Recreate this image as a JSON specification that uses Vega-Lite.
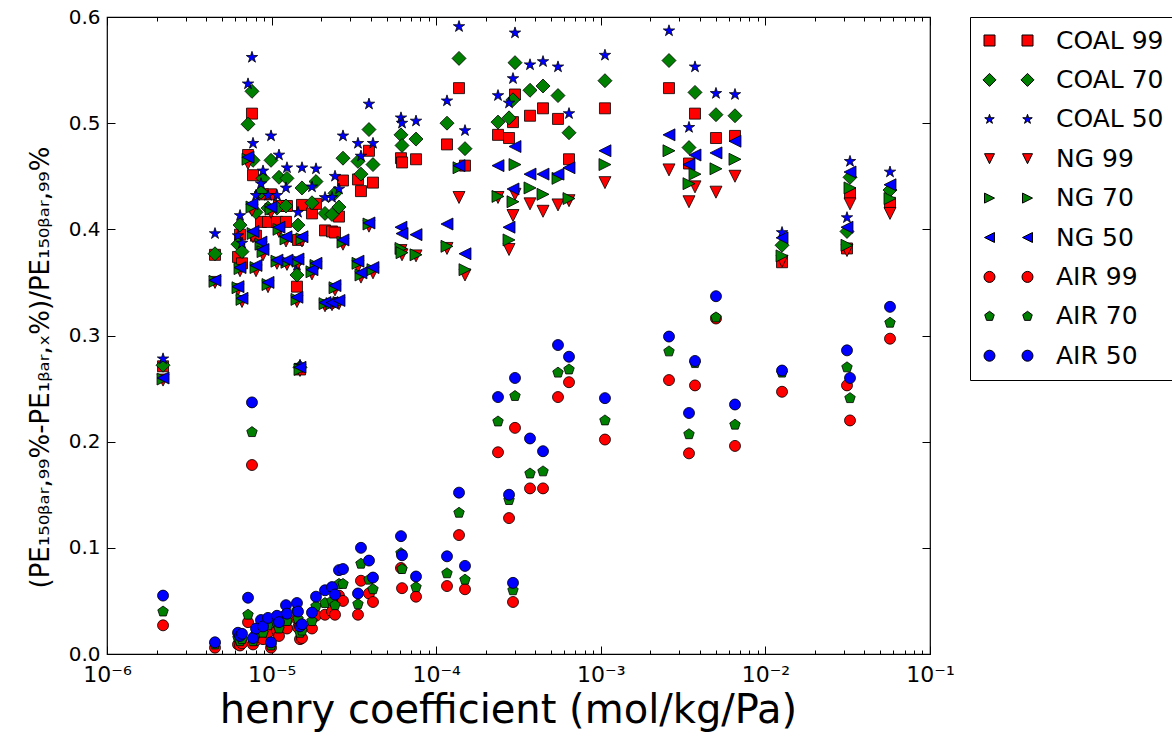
{
"$schema": "https://vega.github.io/schema/vega-lite/v6.json",
"width": 823,
"height": 637,
"autosize": {"type": "none"},
"padding": {"left": 107, "top": 17, "right": 242, "bottom": 84},
"background": "white",
"config": {
  "view": {"stroke": "black", "strokeWidth": 1.2},
  "font": "DejaVu Sans",
  "axis": {"domain": false, "grid": false, "tickColor": "black", "tickWidth": 1, "labelColor": "black", "titleColor": "black", "labelFont": "DejaVu Sans", "titleFont": "DejaVu Sans", "titleFontWeight": "normal"}
},
"data": {"values": [
{"s":"COAL 99","h":2.19e-6,"v":0.271},{"s":"COAL 99","h":4.53e-6,"v":0.376},{"s":"COAL 99","h":6.25e-6,"v":0.374},{"s":"COAL 99","h":6.43e-6,"v":0.395},{"s":"COAL 99","h":6.61e-6,"v":0.368},{"s":"COAL 99","h":7.19e-6,"v":0.47},{"s":"COAL 99","h":7.6e-6,"v":0.509},{"s":"COAL 99","h":7.71e-6,"v":0.451},{"s":"COAL 99","h":8.04e-6,"v":0.394},{"s":"COAL 99","h":8.62e-6,"v":0.407},{"s":"COAL 99","h":8.87e-6,"v":0.433},{"s":"COAL 99","h":9.51e-6,"v":0.407},{"s":"COAL 99","h":9.92e-6,"v":0.433},{"s":"COAL 99","h":1.078e-5,"v":0.407},{"s":"COAL 99","h":1.109e-5,"v":0.422},{"s":"COAL 99","h":1.223e-5,"v":0.407},{"s":"COAL 99","h":1.24e-5,"v":0.422},{"s":"COAL 99","h":1.426e-5,"v":0.346},{"s":"COAL 99","h":1.447e-5,"v":0.39},{"s":"COAL 99","h":1.488e-5,"v":0.268},{"s":"COAL 99","h":1.53e-5,"v":0.423},{"s":"COAL 99","h":1.759e-5,"v":0.415},{"s":"COAL 99","h":1.861e-5,"v":0.424},{"s":"COAL 99","h":2.111e-5,"v":0.399},{"s":"COAL 99","h":2.328e-5,"v":0.398},{"s":"COAL 99","h":2.428e-5,"v":0.397},{"s":"COAL 99","h":2.567e-5,"v":0.412},{"s":"COAL 99","h":2.715e-5,"v":0.446},{"s":"COAL 99","h":3.348e-5,"v":0.447},{"s":"COAL 99","h":3.491e-5,"v":0.436},{"s":"COAL 99","h":3.905e-5,"v":0.474},{"s":"COAL 99","h":4.13e-5,"v":0.444},{"s":"COAL 99","h":6.11e-5,"v":0.467},{"s":"COAL 99","h":6.2e-5,"v":0.463},{"s":"COAL 99","h":7.54e-5,"v":0.466},{"s":"COAL 99","h":1.163e-4,"v":0.48},{"s":"COAL 99","h":1.376e-4,"v":0.533},{"s":"COAL 99","h":1.496e-4,"v":0.46},{"s":"COAL 99","h":2.374e-4,"v":0.489},{"s":"COAL 99","h":2.77e-4,"v":0.486},{"s":"COAL 99","h":2.928e-4,"v":0.501},{"s":"COAL 99","h":3.011e-4,"v":0.527},{"s":"COAL 99","h":3.715e-4,"v":0.507},{"s":"COAL 99","h":4.456e-4,"v":0.514},{"s":"COAL 99","h":5.495e-4,"v":0.504},{"s":"COAL 99","h":6.41e-4,"v":0.466},{"s":"COAL 99","h":1.06e-3,"v":0.514},{"s":"COAL 99","h":2.596e-3,"v":0.533},{"s":"COAL 99","h":3.434e-3,"v":0.462},{"s":"COAL 99","h":3.735e-3,"v":0.509},{"s":"COAL 99","h":5.009e-3,"v":0.486},{"s":"COAL 99","h":6.535e-3,"v":0.488},{"s":"COAL 99","h":1.262e-2,"v":0.369},{"s":"COAL 99","h":3.131e-2,"v":0.382},{"s":"COAL 99","h":3.266e-2,"v":0.434},{"s":"COAL 99","h":5.715e-2,"v":0.425},
{"s":"COAL 70","h":2.19e-6,"v":0.272},{"s":"COAL 70","h":4.53e-6,"v":0.377},{"s":"COAL 70","h":6.25e-6,"v":0.386},{"s":"COAL 70","h":6.43e-6,"v":0.404},{"s":"COAL 70","h":6.61e-6,"v":0.379},{"s":"COAL 70","h":7.19e-6,"v":0.499},{"s":"COAL 70","h":7.6e-6,"v":0.53},{"s":"COAL 70","h":7.71e-6,"v":0.465},{"s":"COAL 70","h":8.04e-6,"v":0.416},{"s":"COAL 70","h":8.62e-6,"v":0.435},{"s":"COAL 70","h":8.87e-6,"v":0.448},{"s":"COAL 70","h":9.51e-6,"v":0.42},{"s":"COAL 70","h":9.92e-6,"v":0.465},{"s":"COAL 70","h":1.078e-5,"v":0.42},{"s":"COAL 70","h":1.109e-5,"v":0.449},{"s":"COAL 70","h":1.223e-5,"v":0.422},{"s":"COAL 70","h":1.24e-5,"v":0.448},{"s":"COAL 70","h":1.426e-5,"v":0.357},{"s":"COAL 70","h":1.447e-5,"v":0.404},{"s":"COAL 70","h":1.488e-5,"v":0.27},{"s":"COAL 70","h":1.53e-5,"v":0.439},{"s":"COAL 70","h":1.759e-5,"v":0.425},{"s":"COAL 70","h":1.861e-5,"v":0.445},{"s":"COAL 70","h":2.111e-5,"v":0.415},{"s":"COAL 70","h":2.328e-5,"v":0.414},{"s":"COAL 70","h":2.428e-5,"v":0.434},{"s":"COAL 70","h":2.567e-5,"v":0.421},{"s":"COAL 70","h":2.715e-5,"v":0.467},{"s":"COAL 70","h":3.348e-5,"v":0.464},{"s":"COAL 70","h":3.491e-5,"v":0.452},{"s":"COAL 70","h":3.905e-5,"v":0.494},{"s":"COAL 70","h":4.13e-5,"v":0.461},{"s":"COAL 70","h":6.11e-5,"v":0.489},{"s":"COAL 70","h":6.2e-5,"v":0.479},{"s":"COAL 70","h":7.54e-5,"v":0.485},{"s":"COAL 70","h":1.163e-4,"v":0.5},{"s":"COAL 70","h":1.376e-4,"v":0.561},{"s":"COAL 70","h":1.496e-4,"v":0.476},{"s":"COAL 70","h":2.374e-4,"v":0.501},{"s":"COAL 70","h":2.77e-4,"v":0.505},{"s":"COAL 70","h":2.928e-4,"v":0.522},{"s":"COAL 70","h":3.011e-4,"v":0.557},{"s":"COAL 70","h":3.715e-4,"v":0.531},{"s":"COAL 70","h":4.456e-4,"v":0.535},{"s":"COAL 70","h":5.495e-4,"v":0.526},{"s":"COAL 70","h":6.41e-4,"v":0.491},{"s":"COAL 70","h":1.06e-3,"v":0.54},{"s":"COAL 70","h":2.596e-3,"v":0.559},{"s":"COAL 70","h":3.434e-3,"v":0.477},{"s":"COAL 70","h":3.735e-3,"v":0.529},{"s":"COAL 70","h":5.009e-3,"v":0.508},{"s":"COAL 70","h":6.535e-3,"v":0.507},{"s":"COAL 70","h":1.262e-2,"v":0.385},{"s":"COAL 70","h":3.131e-2,"v":0.398},{"s":"COAL 70","h":3.266e-2,"v":0.449},{"s":"COAL 70","h":5.715e-2,"v":0.437},
{"s":"COAL 50","h":2.19e-6,"v":0.278},{"s":"COAL 50","h":4.53e-6,"v":0.396},{"s":"COAL 50","h":6.25e-6,"v":0.394},{"s":"COAL 50","h":6.43e-6,"v":0.413},{"s":"COAL 50","h":6.61e-6,"v":0.387},{"s":"COAL 50","h":7.19e-6,"v":0.537},{"s":"COAL 50","h":7.6e-6,"v":0.562},{"s":"COAL 50","h":7.71e-6,"v":0.481},{"s":"COAL 50","h":8.04e-6,"v":0.432},{"s":"COAL 50","h":8.62e-6,"v":0.443},{"s":"COAL 50","h":8.87e-6,"v":0.455},{"s":"COAL 50","h":9.51e-6,"v":0.432},{"s":"COAL 50","h":9.92e-6,"v":0.488},{"s":"COAL 50","h":1.078e-5,"v":0.432},{"s":"COAL 50","h":1.109e-5,"v":0.47},{"s":"COAL 50","h":1.223e-5,"v":0.439},{"s":"COAL 50","h":1.24e-5,"v":0.458},{"s":"COAL 50","h":1.426e-5,"v":0.366},{"s":"COAL 50","h":1.447e-5,"v":0.416},{"s":"COAL 50","h":1.488e-5,"v":0.272},{"s":"COAL 50","h":1.53e-5,"v":0.458},{"s":"COAL 50","h":1.759e-5,"v":0.44},{"s":"COAL 50","h":1.861e-5,"v":0.457},{"s":"COAL 50","h":2.111e-5,"v":0.43},{"s":"COAL 50","h":2.328e-5,"v":0.43},{"s":"COAL 50","h":2.428e-5,"v":0.45},{"s":"COAL 50","h":2.567e-5,"v":0.438},{"s":"COAL 50","h":2.715e-5,"v":0.488},{"s":"COAL 50","h":3.348e-5,"v":0.481},{"s":"COAL 50","h":3.491e-5,"v":0.469},{"s":"COAL 50","h":3.905e-5,"v":0.518},{"s":"COAL 50","h":4.13e-5,"v":0.481},{"s":"COAL 50","h":6.11e-5,"v":0.505},{"s":"COAL 50","h":6.2e-5,"v":0.5},{"s":"COAL 50","h":7.54e-5,"v":0.502},{"s":"COAL 50","h":1.163e-4,"v":0.521},{"s":"COAL 50","h":1.376e-4,"v":0.591},{"s":"COAL 50","h":1.496e-4,"v":0.493},{"s":"COAL 50","h":2.374e-4,"v":0.526},{"s":"COAL 50","h":2.77e-4,"v":0.519},{"s":"COAL 50","h":2.928e-4,"v":0.542},{"s":"COAL 50","h":3.011e-4,"v":0.585},{"s":"COAL 50","h":3.715e-4,"v":0.555},{"s":"COAL 50","h":4.456e-4,"v":0.558},{"s":"COAL 50","h":5.495e-4,"v":0.553},{"s":"COAL 50","h":6.41e-4,"v":0.509},{"s":"COAL 50","h":1.06e-3,"v":0.564},{"s":"COAL 50","h":2.596e-3,"v":0.587},{"s":"COAL 50","h":3.434e-3,"v":0.496},{"s":"COAL 50","h":3.735e-3,"v":0.553},{"s":"COAL 50","h":5.009e-3,"v":0.528},{"s":"COAL 50","h":6.535e-3,"v":0.527},{"s":"COAL 50","h":1.262e-2,"v":0.397},{"s":"COAL 50","h":3.131e-2,"v":0.411},{"s":"COAL 50","h":3.266e-2,"v":0.464},{"s":"COAL 50","h":5.715e-2,"v":0.454},
{"s":"NG 99","h":2.19e-6,"v":0.258},{"s":"NG 99","h":4.53e-6,"v":0.35},{"s":"NG 99","h":6.25e-6,"v":0.343},{"s":"NG 99","h":6.43e-6,"v":0.361},{"s":"NG 99","h":6.61e-6,"v":0.332},{"s":"NG 99","h":7.19e-6,"v":0.462},{"s":"NG 99","h":7.6e-6,"v":0.418},{"s":"NG 99","h":7.71e-6,"v":0.393},{"s":"NG 99","h":8.04e-6,"v":0.361},{"s":"NG 99","h":8.62e-6,"v":0.383},{"s":"NG 99","h":8.87e-6,"v":0.376},{"s":"NG 99","h":9.51e-6,"v":0.346},{"s":"NG 99","h":9.92e-6,"v":0.416},{"s":"NG 99","h":1.078e-5,"v":0.368},{"s":"NG 99","h":1.109e-5,"v":0.398},{"s":"NG 99","h":1.223e-5,"v":0.389},{"s":"NG 99","h":1.24e-5,"v":0.367},{"s":"NG 99","h":1.426e-5,"v":0.332},{"s":"NG 99","h":1.447e-5,"v":0.368},{"s":"NG 99","h":1.488e-5,"v":0.267},{"s":"NG 99","h":1.53e-5,"v":0.389},{"s":"NG 99","h":1.759e-5,"v":0.358},{"s":"NG 99","h":1.861e-5,"v":0.364},{"s":"NG 99","h":2.111e-5,"v":0.328},{"s":"NG 99","h":2.328e-5,"v":0.329},{"s":"NG 99","h":2.428e-5,"v":0.343},{"s":"NG 99","h":2.567e-5,"v":0.33},{"s":"NG 99","h":2.715e-5,"v":0.386},{"s":"NG 99","h":3.348e-5,"v":0.365},{"s":"NG 99","h":3.491e-5,"v":0.355},{"s":"NG 99","h":3.905e-5,"v":0.403},{"s":"NG 99","h":4.13e-5,"v":0.359},{"s":"NG 99","h":6.11e-5,"v":0.38},{"s":"NG 99","h":6.2e-5,"v":0.376},{"s":"NG 99","h":7.54e-5,"v":0.375},{"s":"NG 99","h":1.163e-4,"v":0.382},{"s":"NG 99","h":1.376e-4,"v":0.43},{"s":"NG 99","h":1.496e-4,"v":0.357},{"s":"NG 99","h":2.374e-4,"v":0.43},{"s":"NG 99","h":2.77e-4,"v":0.381},{"s":"NG 99","h":2.928e-4,"v":0.413},{"s":"NG 99","h":3.011e-4,"v":0.433},{"s":"NG 99","h":3.715e-4,"v":0.424},{"s":"NG 99","h":4.456e-4,"v":0.417},{"s":"NG 99","h":5.495e-4,"v":0.423},{"s":"NG 99","h":6.41e-4,"v":0.427},{"s":"NG 99","h":1.06e-3,"v":0.444},{"s":"NG 99","h":2.596e-3,"v":0.456},{"s":"NG 99","h":3.434e-3,"v":0.426},{"s":"NG 99","h":3.735e-3,"v":0.44},{"s":"NG 99","h":5.009e-3,"v":0.435},{"s":"NG 99","h":6.535e-3,"v":0.45},{"s":"NG 99","h":1.262e-2,"v":0.37},{"s":"NG 99","h":3.131e-2,"v":0.38},{"s":"NG 99","h":3.266e-2,"v":0.424},{"s":"NG 99","h":5.715e-2,"v":0.415},
{"s":"NG 70","h":2.19e-6,"v":0.259},{"s":"NG 70","h":4.53e-6,"v":0.351},{"s":"NG 70","h":6.25e-6,"v":0.345},{"s":"NG 70","h":6.43e-6,"v":0.363},{"s":"NG 70","h":6.61e-6,"v":0.334},{"s":"NG 70","h":7.19e-6,"v":0.466},{"s":"NG 70","h":7.6e-6,"v":0.421},{"s":"NG 70","h":7.71e-6,"v":0.396},{"s":"NG 70","h":8.04e-6,"v":0.364},{"s":"NG 70","h":8.62e-6,"v":0.386},{"s":"NG 70","h":8.87e-6,"v":0.379},{"s":"NG 70","h":9.51e-6,"v":0.348},{"s":"NG 70","h":9.92e-6,"v":0.419},{"s":"NG 70","h":1.078e-5,"v":0.37},{"s":"NG 70","h":1.109e-5,"v":0.4},{"s":"NG 70","h":1.223e-5,"v":0.391},{"s":"NG 70","h":1.24e-5,"v":0.369},{"s":"NG 70","h":1.426e-5,"v":0.334},{"s":"NG 70","h":1.447e-5,"v":0.37},{"s":"NG 70","h":1.488e-5,"v":0.268},{"s":"NG 70","h":1.53e-5,"v":0.391},{"s":"NG 70","h":1.759e-5,"v":0.36},{"s":"NG 70","h":1.861e-5,"v":0.366},{"s":"NG 70","h":2.111e-5,"v":0.33},{"s":"NG 70","h":2.328e-5,"v":0.33},{"s":"NG 70","h":2.428e-5,"v":0.345},{"s":"NG 70","h":2.567e-5,"v":0.331},{"s":"NG 70","h":2.715e-5,"v":0.388},{"s":"NG 70","h":3.348e-5,"v":0.368},{"s":"NG 70","h":3.491e-5,"v":0.357},{"s":"NG 70","h":3.905e-5,"v":0.405},{"s":"NG 70","h":4.13e-5,"v":0.362},{"s":"NG 70","h":6.11e-5,"v":0.382},{"s":"NG 70","h":6.2e-5,"v":0.378},{"s":"NG 70","h":7.54e-5,"v":0.376},{"s":"NG 70","h":1.163e-4,"v":0.384},{"s":"NG 70","h":1.376e-4,"v":0.458},{"s":"NG 70","h":1.496e-4,"v":0.362},{"s":"NG 70","h":2.374e-4,"v":0.431},{"s":"NG 70","h":2.77e-4,"v":0.39},{"s":"NG 70","h":2.928e-4,"v":0.426},{"s":"NG 70","h":3.011e-4,"v":0.461},{"s":"NG 70","h":3.715e-4,"v":0.439},{"s":"NG 70","h":4.456e-4,"v":0.433},{"s":"NG 70","h":5.495e-4,"v":0.448},{"s":"NG 70","h":6.41e-4,"v":0.429},{"s":"NG 70","h":1.06e-3,"v":0.461},{"s":"NG 70","h":2.596e-3,"v":0.474},{"s":"NG 70","h":3.434e-3,"v":0.443},{"s":"NG 70","h":3.735e-3,"v":0.452},{"s":"NG 70","h":5.009e-3,"v":0.457},{"s":"NG 70","h":6.535e-3,"v":0.466},{"s":"NG 70","h":1.262e-2,"v":0.375},{"s":"NG 70","h":3.131e-2,"v":0.385},{"s":"NG 70","h":3.266e-2,"v":0.439},{"s":"NG 70","h":5.715e-2,"v":0.429},
{"s":"NG 50","h":2.19e-6,"v":0.26},{"s":"NG 50","h":4.53e-6,"v":0.352},{"s":"NG 50","h":6.25e-6,"v":0.346},{"s":"NG 50","h":6.43e-6,"v":0.364},{"s":"NG 50","h":6.61e-6,"v":0.335},{"s":"NG 50","h":7.19e-6,"v":0.468},{"s":"NG 50","h":7.6e-6,"v":0.424},{"s":"NG 50","h":7.71e-6,"v":0.398},{"s":"NG 50","h":8.04e-6,"v":0.366},{"s":"NG 50","h":8.62e-6,"v":0.388},{"s":"NG 50","h":8.87e-6,"v":0.381},{"s":"NG 50","h":9.51e-6,"v":0.35},{"s":"NG 50","h":9.92e-6,"v":0.421},{"s":"NG 50","h":1.078e-5,"v":0.371},{"s":"NG 50","h":1.109e-5,"v":0.402},{"s":"NG 50","h":1.223e-5,"v":0.393},{"s":"NG 50","h":1.24e-5,"v":0.371},{"s":"NG 50","h":1.426e-5,"v":0.336},{"s":"NG 50","h":1.447e-5,"v":0.372},{"s":"NG 50","h":1.488e-5,"v":0.27},{"s":"NG 50","h":1.53e-5,"v":0.393},{"s":"NG 50","h":1.759e-5,"v":0.362},{"s":"NG 50","h":1.861e-5,"v":0.368},{"s":"NG 50","h":2.111e-5,"v":0.331},{"s":"NG 50","h":2.328e-5,"v":0.331},{"s":"NG 50","h":2.428e-5,"v":0.347},{"s":"NG 50","h":2.567e-5,"v":0.333},{"s":"NG 50","h":2.715e-5,"v":0.39},{"s":"NG 50","h":3.348e-5,"v":0.37},{"s":"NG 50","h":3.491e-5,"v":0.359},{"s":"NG 50","h":3.905e-5,"v":0.406},{"s":"NG 50","h":4.13e-5,"v":0.364},{"s":"NG 50","h":6.11e-5,"v":0.402},{"s":"NG 50","h":6.2e-5,"v":0.396},{"s":"NG 50","h":7.54e-5,"v":0.395},{"s":"NG 50","h":1.163e-4,"v":0.405},{"s":"NG 50","h":1.376e-4,"v":0.46},{"s":"NG 50","h":1.496e-4,"v":0.377},{"s":"NG 50","h":2.374e-4,"v":0.46},{"s":"NG 50","h":2.77e-4,"v":0.402},{"s":"NG 50","h":2.928e-4,"v":0.438},{"s":"NG 50","h":3.011e-4,"v":0.478},{"s":"NG 50","h":3.715e-4,"v":0.452},{"s":"NG 50","h":4.456e-4,"v":0.452},{"s":"NG 50","h":5.495e-4,"v":0.452},{"s":"NG 50","h":6.41e-4,"v":0.458},{"s":"NG 50","h":1.06e-3,"v":0.474},{"s":"NG 50","h":2.596e-3,"v":0.489},{"s":"NG 50","h":3.434e-3,"v":0.461},{"s":"NG 50","h":3.735e-3,"v":0.47},{"s":"NG 50","h":5.009e-3,"v":0.472},{"s":"NG 50","h":6.535e-3,"v":0.483},{"s":"NG 50","h":1.262e-2,"v":0.392},{"s":"NG 50","h":3.131e-2,"v":0.402},{"s":"NG 50","h":3.266e-2,"v":0.454},{"s":"NG 50","h":5.715e-2,"v":0.442},
{"s":"AIR 99","h":2.19e-6,"v":0.027},{"s":"AIR 99","h":4.53e-6,"v":0.006},{"s":"AIR 99","h":6.25e-6,"v":0.009},{"s":"AIR 99","h":6.43e-6,"v":0.008},{"s":"AIR 99","h":6.61e-6,"v":0.01},{"s":"AIR 99","h":7.19e-6,"v":0.03},{"s":"AIR 99","h":7.6e-6,"v":0.178},{"s":"AIR 99","h":7.71e-6,"v":0.009},{"s":"AIR 99","h":8.04e-6,"v":0.013},{"s":"AIR 99","h":8.62e-6,"v":0.018},{"s":"AIR 99","h":8.87e-6,"v":0.014},{"s":"AIR 99","h":9.51e-6,"v":0.02},{"s":"AIR 99","h":9.92e-6,"v":0.006},{"s":"AIR 99","h":1.078e-5,"v":0.022},{"s":"AIR 99","h":1.109e-5,"v":0.017},{"s":"AIR 99","h":1.223e-5,"v":0.03},{"s":"AIR 99","h":1.24e-5,"v":0.024},{"s":"AIR 99","h":1.426e-5,"v":0.033},{"s":"AIR 99","h":1.447e-5,"v":0.025},{"s":"AIR 99","h":1.488e-5,"v":0.014},{"s":"AIR 99","h":1.53e-5,"v":0.015},{"s":"AIR 99","h":1.759e-5,"v":0.024},{"s":"AIR 99","h":1.861e-5,"v":0.036},{"s":"AIR 99","h":2.111e-5,"v":0.037},{"s":"AIR 99","h":2.328e-5,"v":0.04},{"s":"AIR 99","h":2.428e-5,"v":0.037},{"s":"AIR 99","h":2.567e-5,"v":0.055},{"s":"AIR 99","h":2.715e-5,"v":0.05},{"s":"AIR 99","h":3.348e-5,"v":0.037},{"s":"AIR 99","h":3.491e-5,"v":0.069},{"s":"AIR 99","h":3.905e-5,"v":0.057},{"s":"AIR 99","h":4.13e-5,"v":0.049},{"s":"AIR 99","h":6.11e-5,"v":0.081},{"s":"AIR 99","h":6.2e-5,"v":0.062},{"s":"AIR 99","h":7.54e-5,"v":0.054},{"s":"AIR 99","h":1.163e-4,"v":0.064},{"s":"AIR 99","h":1.376e-4,"v":0.112},{"s":"AIR 99","h":1.496e-4,"v":0.061},{"s":"AIR 99","h":2.374e-4,"v":0.19},{"s":"AIR 99","h":2.77e-4,"v":0.128},{"s":"AIR 99","h":2.928e-4,"v":0.049},{"s":"AIR 99","h":3.011e-4,"v":0.213},{"s":"AIR 99","h":3.715e-4,"v":0.156},{"s":"AIR 99","h":4.456e-4,"v":0.156},{"s":"AIR 99","h":5.495e-4,"v":0.242},{"s":"AIR 99","h":6.41e-4,"v":0.256},{"s":"AIR 99","h":1.06e-3,"v":0.202},{"s":"AIR 99","h":2.596e-3,"v":0.258},{"s":"AIR 99","h":3.434e-3,"v":0.189},{"s":"AIR 99","h":3.735e-3,"v":0.253},{"s":"AIR 99","h":5.009e-3,"v":0.316},{"s":"AIR 99","h":6.535e-3,"v":0.196},{"s":"AIR 99","h":1.262e-2,"v":0.247},{"s":"AIR 99","h":3.131e-2,"v":0.253},{"s":"AIR 99","h":3.266e-2,"v":0.22},{"s":"AIR 99","h":5.715e-2,"v":0.297},
{"s":"AIR 70","h":2.19e-6,"v":0.04},{"s":"AIR 70","h":4.53e-6,"v":0.009},{"s":"AIR 70","h":6.25e-6,"v":0.015},{"s":"AIR 70","h":6.43e-6,"v":0.012},{"s":"AIR 70","h":6.61e-6,"v":0.014},{"s":"AIR 70","h":7.19e-6,"v":0.037},{"s":"AIR 70","h":7.6e-6,"v":0.209},{"s":"AIR 70","h":7.71e-6,"v":0.012},{"s":"AIR 70","h":8.04e-6,"v":0.019},{"s":"AIR 70","h":8.62e-6,"v":0.025},{"s":"AIR 70","h":8.87e-6,"v":0.02},{"s":"AIR 70","h":9.51e-6,"v":0.027},{"s":"AIR 70","h":9.92e-6,"v":0.008},{"s":"AIR 70","h":1.078e-5,"v":0.029},{"s":"AIR 70","h":1.109e-5,"v":0.024},{"s":"AIR 70","h":1.223e-5,"v":0.038},{"s":"AIR 70","h":1.24e-5,"v":0.031},{"s":"AIR 70","h":1.426e-5,"v":0.041},{"s":"AIR 70","h":1.447e-5,"v":0.033},{"s":"AIR 70","h":1.488e-5,"v":0.02},{"s":"AIR 70","h":1.53e-5,"v":0.022},{"s":"AIR 70","h":1.759e-5,"v":0.031},{"s":"AIR 70","h":1.861e-5,"v":0.045},{"s":"AIR 70","h":2.111e-5,"v":0.048},{"s":"AIR 70","h":2.328e-5,"v":0.05},{"s":"AIR 70","h":2.428e-5,"v":0.046},{"s":"AIR 70","h":2.567e-5,"v":0.066},{"s":"AIR 70","h":2.715e-5,"v":0.066},{"s":"AIR 70","h":3.348e-5,"v":0.047},{"s":"AIR 70","h":3.491e-5,"v":0.085},{"s":"AIR 70","h":3.905e-5,"v":0.07},{"s":"AIR 70","h":4.13e-5,"v":0.061},{"s":"AIR 70","h":6.11e-5,"v":0.095},{"s":"AIR 70","h":6.2e-5,"v":0.08},{"s":"AIR 70","h":7.54e-5,"v":0.063},{"s":"AIR 70","h":1.163e-4,"v":0.076},{"s":"AIR 70","h":1.376e-4,"v":0.133},{"s":"AIR 70","h":1.496e-4,"v":0.07},{"s":"AIR 70","h":2.374e-4,"v":0.219},{"s":"AIR 70","h":2.77e-4,"v":0.145},{"s":"AIR 70","h":2.928e-4,"v":0.06},{"s":"AIR 70","h":3.011e-4,"v":0.243},{"s":"AIR 70","h":3.715e-4,"v":0.17},{"s":"AIR 70","h":4.456e-4,"v":0.172},{"s":"AIR 70","h":5.495e-4,"v":0.265},{"s":"AIR 70","h":6.41e-4,"v":0.268},{"s":"AIR 70","h":1.06e-3,"v":0.22},{"s":"AIR 70","h":2.596e-3,"v":0.285},{"s":"AIR 70","h":3.434e-3,"v":0.207},{"s":"AIR 70","h":3.735e-3,"v":0.274},{"s":"AIR 70","h":5.009e-3,"v":0.317},{"s":"AIR 70","h":6.535e-3,"v":0.216},{"s":"AIR 70","h":1.262e-2,"v":0.265},{"s":"AIR 70","h":3.131e-2,"v":0.27},{"s":"AIR 70","h":3.266e-2,"v":0.241},{"s":"AIR 70","h":5.715e-2,"v":0.312},
{"s":"AIR 50","h":2.19e-6,"v":0.055},{"s":"AIR 50","h":4.53e-6,"v":0.011},{"s":"AIR 50","h":6.25e-6,"v":0.02},{"s":"AIR 50","h":6.43e-6,"v":0.017},{"s":"AIR 50","h":6.61e-6,"v":0.019},{"s":"AIR 50","h":7.19e-6,"v":0.053},{"s":"AIR 50","h":7.6e-6,"v":0.237},{"s":"AIR 50","h":7.71e-6,"v":0.015},{"s":"AIR 50","h":8.04e-6,"v":0.024},{"s":"AIR 50","h":8.62e-6,"v":0.032},{"s":"AIR 50","h":8.87e-6,"v":0.026},{"s":"AIR 50","h":9.51e-6,"v":0.034},{"s":"AIR 50","h":9.92e-6,"v":0.011},{"s":"AIR 50","h":1.078e-5,"v":0.036},{"s":"AIR 50","h":1.109e-5,"v":0.03},{"s":"AIR 50","h":1.223e-5,"v":0.046},{"s":"AIR 50","h":1.24e-5,"v":0.038},{"s":"AIR 50","h":1.426e-5,"v":0.048},{"s":"AIR 50","h":1.447e-5,"v":0.04},{"s":"AIR 50","h":1.488e-5,"v":0.026},{"s":"AIR 50","h":1.53e-5,"v":0.028},{"s":"AIR 50","h":1.759e-5,"v":0.039},{"s":"AIR 50","h":1.861e-5,"v":0.054},{"s":"AIR 50","h":2.111e-5,"v":0.06},{"s":"AIR 50","h":2.328e-5,"v":0.063},{"s":"AIR 50","h":2.428e-5,"v":0.056},{"s":"AIR 50","h":2.567e-5,"v":0.079},{"s":"AIR 50","h":2.715e-5,"v":0.08},{"s":"AIR 50","h":3.348e-5,"v":0.057},{"s":"AIR 50","h":3.491e-5,"v":0.1},{"s":"AIR 50","h":3.905e-5,"v":0.088},{"s":"AIR 50","h":4.13e-5,"v":0.072},{"s":"AIR 50","h":6.11e-5,"v":0.111},{"s":"AIR 50","h":6.2e-5,"v":0.093},{"s":"AIR 50","h":7.54e-5,"v":0.073},{"s":"AIR 50","h":1.163e-4,"v":0.092},{"s":"AIR 50","h":1.376e-4,"v":0.152},{"s":"AIR 50","h":1.496e-4,"v":0.083},{"s":"AIR 50","h":2.374e-4,"v":0.242},{"s":"AIR 50","h":2.77e-4,"v":0.15},{"s":"AIR 50","h":2.928e-4,"v":0.067},{"s":"AIR 50","h":3.011e-4,"v":0.26},{"s":"AIR 50","h":3.715e-4,"v":0.203},{"s":"AIR 50","h":4.456e-4,"v":0.191},{"s":"AIR 50","h":5.495e-4,"v":0.291},{"s":"AIR 50","h":6.41e-4,"v":0.28},{"s":"AIR 50","h":1.06e-3,"v":0.241},{"s":"AIR 50","h":2.596e-3,"v":0.299},{"s":"AIR 50","h":3.434e-3,"v":0.227},{"s":"AIR 50","h":3.735e-3,"v":0.276},{"s":"AIR 50","h":5.009e-3,"v":0.337},{"s":"AIR 50","h":6.535e-3,"v":0.235},{"s":"AIR 50","h":1.262e-2,"v":0.267},{"s":"AIR 50","h":3.131e-2,"v":0.286},{"s":"AIR 50","h":3.266e-2,"v":0.26},{"s":"AIR 50","h":5.715e-2,"v":0.327}
]},
"layer": [
  {
    "mark": {"type": "point", "filled": true, "size": 121, "stroke": "black", "strokeWidth": 0.8, "opacity": 1},
    "encoding": {
      "x": {"field": "h", "type": "quantitative", "scale": {"type": "log", "domain": [1e-6, 0.1], "nice": false},
        "axis": {"orient": "bottom", "values": [1e-6, 1e-5, 1e-4, 1e-3, 1e-2, 1e-1], "tickSize": -8,
          "labelExpr": "'10' + ['⁻⁶','⁻⁵','⁻⁴','⁻³','⁻²','⁻¹'][round(log(datum.value)/LN10)+6]",
          "labelFontSize": 22, "labelPadding": 18, "labelOverlap": false, "labelFlush": false, "labelBaseline": "top",
          "title": "henry coefficient (mol/kg/Pa)", "titleFontSize": 40, "titleX": 401, "titleY": 68, "titleBaseline": "alphabetic"}},
      "y": {"field": "v", "type": "quantitative", "scale": {"domain": [0, 0.6], "nice": false, "zero": false},
        "axis": {"orient": "left", "values": [0, 0.1, 0.2, 0.3, 0.4, 0.5, 0.6], "format": ".1f", "tickSize": -8,
          "labelFontSize": 20, "labelPadding": 15,
          "title": "(PE₁₅₀ᵦₐᵣ,₉₉%-PE₁ᵦₐᵣ,ₓ%)/PE₁₅₀ᵦₐᵣ,₉₉%", "titleFontSize": 26, "titleX": -67, "titleY": 350, "titleBaseline": "middle", "titleAngle": -90}},
      "color": {"field": "s", "type": "nominal",
        "scale": {"domain": ["COAL 99","COAL 70","COAL 50","NG 99","NG 70","NG 50","AIR 99","AIR 70","AIR 50"],
                  "range": ["#ff0000","#008000","#0000ff","#ff0000","#008000","#0000ff","#ff0000","#008000","#0000ff"]},
        "legend": null},
      "shape": {"field": "s", "type": "nominal",
        "scale": {"domain": ["COAL 99","COAL 70","COAL 50","NG 99","NG 70","NG 50","AIR 99","AIR 70","AIR 50"],
                  "range": ["M-1,-1H1V1H-1Z","M-1.27,0L0,-1.27L1.27,0L0,1.27Z","M0,-1.09L0.243,-0.335L1.037,-0.337L0.393,0.128L0.641,0.882L0,0.414L-0.641,0.882L-0.393,0.128L-1.037,-0.337L-0.243,-0.335Z","M-1.09,-1.09H1.09L0,1.09Z","M-1.09,-1.09L1.09,0L-1.09,1.09Z","M1.09,-1.09L-1.09,0L1.09,1.09Z","M-1,0A1,1,0,1,0,1,0A1,1,0,1,0,-1,0Z","M0,-1L0.951,-0.309L0.588,0.809L-0.588,0.809L-0.951,-0.309Z","M-1,0A1,1,0,1,0,1,0A1,1,0,1,0,-1,0Z"]},
        "legend": null}
    }
  },
  {
    "transform": [{"filter": "false"}],
    "mark": {"type": "point", "filled": true, "stroke": "black", "strokeWidth": 1, "opacity": 1},
    "encoding": {
      "x": {"field": "h", "type": "quantitative", "axis": null},
      "y": {"field": "v", "type": "quantitative", "axis": null},
      "color": {"field": "s", "type": "nominal",
        "scale": {"domain": ["COAL 99","COAL 70","COAL 50","NG 99","NG 70","NG 50","AIR 99","AIR 70","AIR 50"],
                  "range": ["#ff0000","#008000","#0000ff","#ff0000","#008000","#0000ff","#ff0000","#008000","#0000ff"]},
        "legend": {"title": null, "orient": "none", "legendX": 863, "legendY": 0, "padding": 11,
          "strokeColor": "black", "fillColor": "white", "cornerRadius": 0,
          "symbolSize": 400, "symbolOffset": 15, "labelOffset": 35, "rowPadding": 13.4,
          "labelFontSize": 25, "labelFont": "DejaVu Sans", "labelColor": "black", "labelLimit": 0,
          "symbolStrokeColor": "black", "symbolStrokeWidth": 1,
          "encode": {"legend": {"update": {"strokeWidth": {"value": 1.2}}}}}},
      "shape": {"field": "s", "type": "nominal",
        "scale": {"domain": ["COAL 99","COAL 70","COAL 50","NG 99","NG 70","NG 50","AIR 99","AIR 70","AIR 50"],
                  "range": ["M-2.45,-0.55H-1.35V0.55H-2.45ZM1.35,-0.55H2.45V0.55H1.35Z","M-2.55,0L-1.9,-0.65L-1.25,0L-1.9,0.65ZM1.25,0L1.9,-0.65L2.55,0L1.9,0.65Z","M-1.9,-0.5L-1.788,-0.154L-1.424,-0.155L-1.719,0.059L-1.606,0.405L-1.9,0.19L-2.194,0.405L-2.081,0.059L-2.376,-0.155L-2.012,-0.154ZM1.9,-0.5L2.012,-0.154L2.376,-0.155L2.081,0.059L2.194,0.405L1.9,0.19L1.606,0.405L1.719,0.059L1.424,-0.155L1.788,-0.154Z","M-2.4,-0.5H-1.4L-1.9,0.5ZM1.4,-0.5H2.4L1.9,0.5Z","M-2.4,-0.5L-1.4,0L-2.4,0.5ZM1.4,-0.5L2.4,0L1.4,0.5Z","M-1.4,-0.5L-2.4,0L-1.4,0.5ZM2.4,-0.5L1.4,0L2.4,0.5Z","M-2.45,0A0.55,0.55,0,1,0,-1.35,0A0.55,0.55,0,1,0,-2.45,0ZM1.35,0A0.55,0.55,0,1,0,2.45,0A0.55,0.55,0,1,0,1.35,0Z","M-1.9,-0.5L-1.424,-0.155L-1.606,0.405L-2.194,0.405L-2.376,-0.155ZM1.9,-0.5L2.376,-0.155L2.194,0.405L1.606,0.405L1.424,-0.155Z","M-2.45,0A0.55,0.55,0,1,0,-1.35,0A0.55,0.55,0,1,0,-2.45,0ZM1.35,0A0.55,0.55,0,1,0,2.45,0A0.55,0.55,0,1,0,1.35,0Z"]},
        "legend": {"title": null, "orient": "none", "legendX": 863, "legendY": 0, "padding": 11,
          "strokeColor": "black", "fillColor": "white", "cornerRadius": 0,
          "symbolSize": 400, "symbolOffset": 15, "labelOffset": 35, "rowPadding": 13.4,
          "labelFontSize": 25, "labelFont": "DejaVu Sans", "labelColor": "black", "labelLimit": 0,
          "symbolStrokeColor": "black", "symbolStrokeWidth": 1}}
    }
  },
  {
    "mark": {"type": "point", "opacity": 0},
    "encoding": {
      "x": {"field": "h", "type": "quantitative",
        "axis": {"orient": "bottom", "values": [2e-6,3e-6,4e-6,5e-6,6e-6,7e-6,8e-6,9e-6,2e-5,3e-5,4e-5,5e-5,6e-5,7e-5,8e-5,9e-5,2e-4,3e-4,4e-4,5e-4,6e-4,7e-4,8e-4,9e-4,2e-3,3e-3,4e-3,5e-3,6e-3,7e-3,8e-3,9e-3,2e-2,3e-2,4e-2,5e-2,6e-2,7e-2,8e-2,9e-2], "tickSize": -4, "labels": false, "title": null}},
      "y": {"field": "v", "type": "quantitative",
        "axis": {"orient": "right", "values": [0, 0.1, 0.2, 0.3, 0.4, 0.5, 0.6], "tickSize": -8, "labels": false, "title": null}}
    }
  },
  {
    "mark": {"type": "point", "opacity": 0},
    "encoding": {
      "x": {"field": "h", "type": "quantitative",
        "axis": {"orient": "top", "values": [1e-6, 1e-5, 1e-4, 1e-3, 1e-2, 1e-1], "tickSize": -8, "labels": false, "title": null}},
      "y": {"field": "v", "type": "quantitative", "axis": null}
    }
  },
  {
    "mark": {"type": "point", "opacity": 0},
    "encoding": {
      "x": {"field": "h", "type": "quantitative",
        "axis": {"orient": "top", "values": [2e-6,3e-6,4e-6,5e-6,6e-6,7e-6,8e-6,9e-6,2e-5,3e-5,4e-5,5e-5,6e-5,7e-5,8e-5,9e-5,2e-4,3e-4,4e-4,5e-4,6e-4,7e-4,8e-4,9e-4,2e-3,3e-3,4e-3,5e-3,6e-3,7e-3,8e-3,9e-3,2e-2,3e-2,4e-2,5e-2,6e-2,7e-2,8e-2,9e-2], "tickSize": -4, "labels": false, "title": null}},
      "y": {"field": "v", "type": "quantitative", "axis": null}
    }
  }
],
"resolve": {"scale": {"color": "independent", "shape": "independent"}, "axis": {"x": "independent", "y": "independent"}}
}
